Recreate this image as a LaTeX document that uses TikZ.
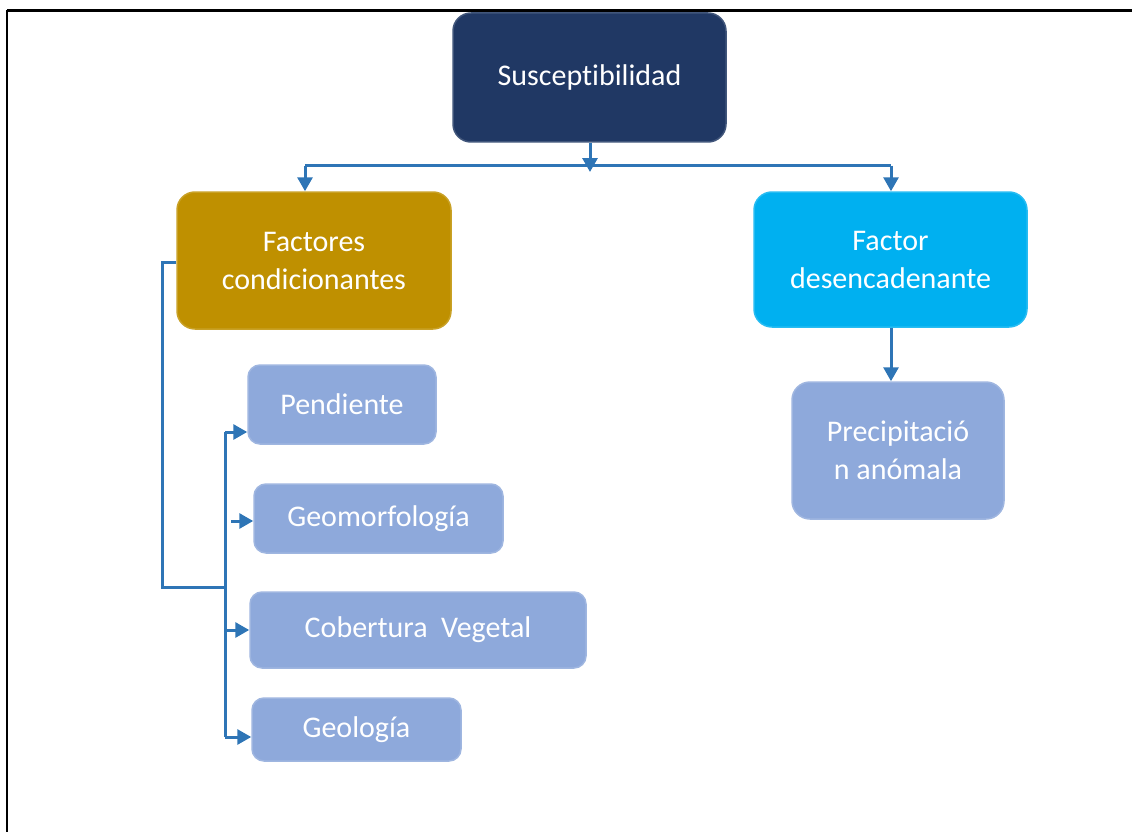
\documentclass[tikz,border=0pt]{standalone}
\usepackage{fontspec}
\setmainfont{Carlito}[Ligatures=NoCommon]
\usetikzlibrary{arrows.meta}
\definecolor{navybox}{HTML}{203864}
\definecolor{goldbox}{HTML}{BF9000}
\definecolor{cyanbox}{HTML}{00B0F0}
\definecolor{lightbox}{HTML}{8EA9DB}
\definecolor{connblue}{HTML}{2E75B6}
\begin{document}
\begin{tikzpicture}[x=1pt,y=-1pt,
  box/.style={rounded corners=18pt, inner sep=0pt, text=white, align=center,
    font=\fontsize{30}{38}\selectfont},
  smallbox/.style={box, rounded corners=12pt, fill=lightbox, draw=lightbox!85!white, line width=1.5pt},
  conn/.style={draw=connblue, line width=3pt},
  arr/.style={conn, -{Triangle[length=14pt,width=15pt]}},
  frameline/.style={draw=black, line width=2.5pt}
]
\useasboundingbox (0,0) rectangle (1132,832);
% frame
\draw[frameline] (7,10.5) -- (1132,10.5);
\draw[frameline] (7,10.5) -- (7,832);

% nodes
\node[box, fill=navybox, draw=navybox!85!white, line width=1.5pt, minimum width=273pt, minimum height=129pt] (s) at (589.5,77.5) {Susceptibilidad};
\node[box, fill=goldbox, draw=goldbox!85!white, line width=1.5pt, minimum width=274pt, minimum height=137pt] (fc) at (314,260.5) {Factores\\condicionantes};
\node[box, fill=cyanbox, draw=cyanbox!85!white, line width=1.5pt, minimum width=273pt, minimum height=135pt] (fd) at (890.5,259.5) {Factor\\desencadenante};
\node[box, fill=lightbox, draw=lightbox!85!white, line width=1.5pt, minimum width=212pt, minimum height=137pt] (pa) at (898,450.5) {Precipitació\\n anómala};
\node[smallbox, minimum width=188pt, minimum height=79pt] (pe) at (342,404.5) {Pendiente};
\node[smallbox, minimum width=249pt, minimum height=69pt] (ge) at (378.5,518.5) {Geomorfología};
\node[smallbox, minimum width=336pt, minimum height=76pt] (cv) at (418,630) {Cobertura\ \ Vegetal};
\node[smallbox, minimum width=209pt, minimum height=63pt] (gl) at (356.5,729.5) {Geología};

% top connectors
\coordinate (sj) at (590,172);
\coordinate (hl) at (305,165.5);
\coordinate (hr) at (891,165.5);
\draw[conn] (hl) -- (hr);
\draw[arr] (s.south -| sj) -- (sj);
\draw[arr] (hl) -- (fc.north -| hl);
\draw[arr] (hr) -- (fd.north -| hr);
\draw[arr] (fd.south -| hr) -- (pa.north -| hr);

% left tree
\coordinate (lc) at (162,262);
\coordinate (bj) at (225,587);
\coordinate (t1) at (225,432);
\coordinate (t2) at (231,521);
\coordinate (t3) at (225,630);
\coordinate (t4) at (225,737);
\draw[conn] (fc.west |- lc) -- (lc) |- (bj);
\draw[conn] (t1) -- (t4);
\draw[arr] (t1) -- (pe.west |- t1);
\draw[arr] (t2) -- (ge.west |- t2);
\draw[arr] (t3) -- (cv.west |- t3);
\draw[arr] (t4) -- (gl.west |- t4);
\end{tikzpicture}
\end{document}
